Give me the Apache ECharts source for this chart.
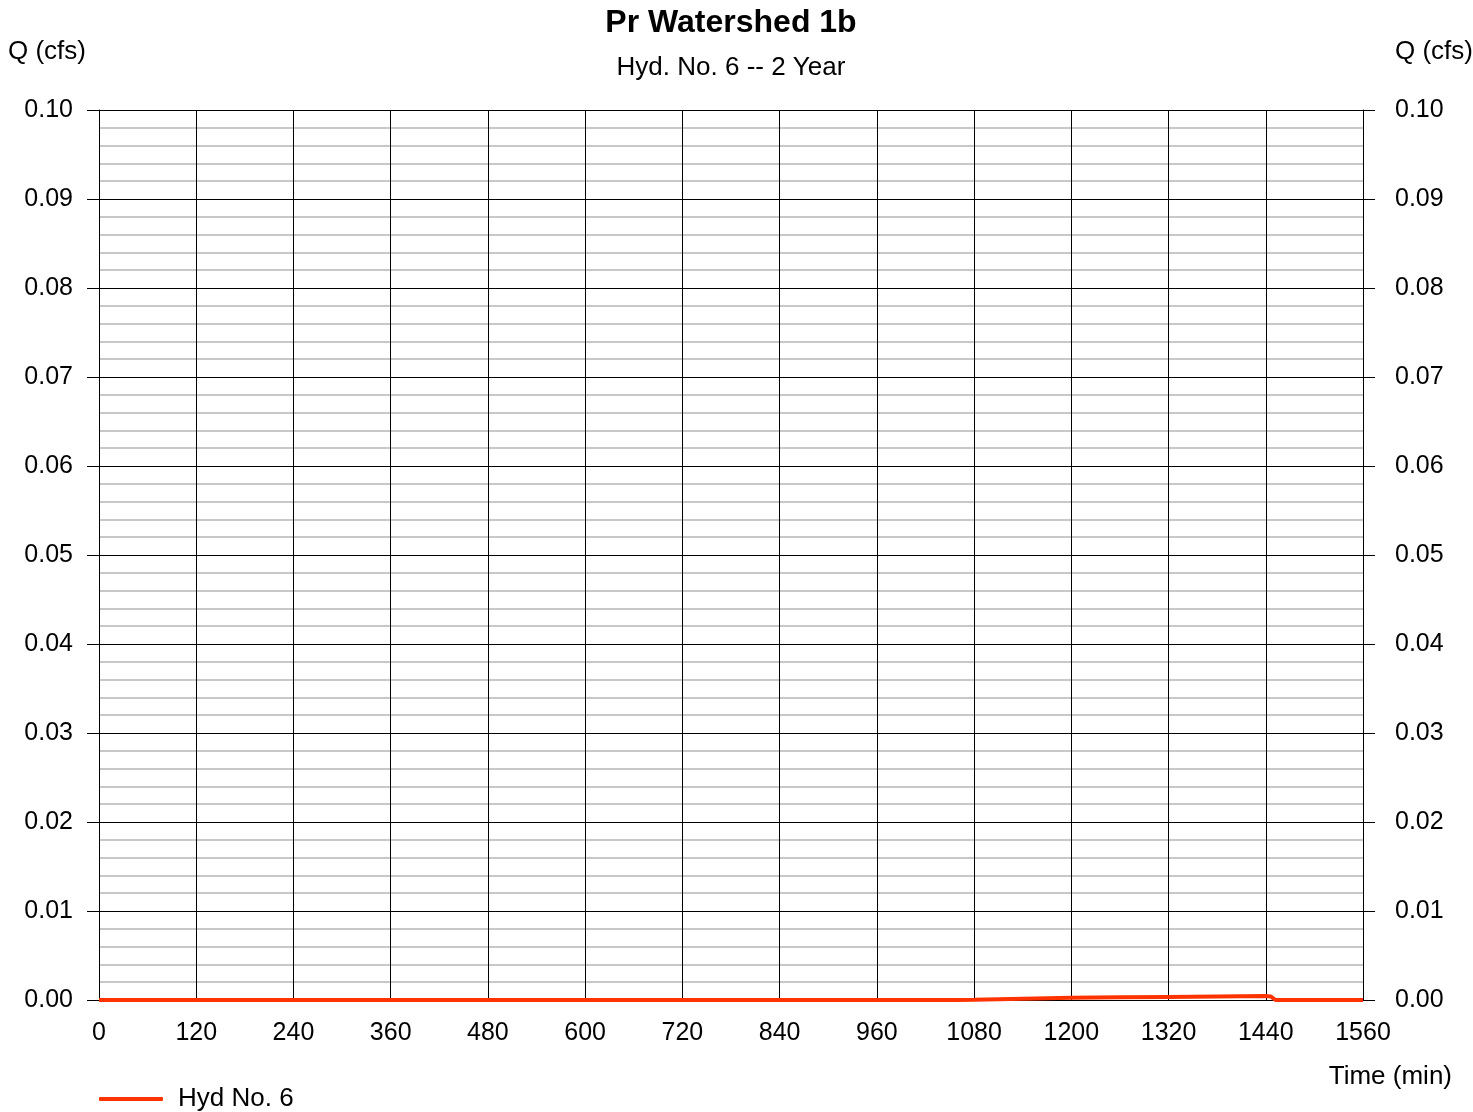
<!DOCTYPE html>
<html><head><meta charset="utf-8">
<script src="https://cdn.jsdelivr.net/npm/echarts@6/dist/echarts.min.js"></script>
<style>html,body{margin:0;padding:0;background:#fff}#c{width:1473px;height:1112px}</style>
</head><body><div id="c"></div>
<script>
var titleText = 'Pr Watershed 1b';
var subtitleText = 'Hyd. No. 6 -- 2 Year';
var seriesName = 'Hyd No. 6';
var timeMin = [0, 120, 240, 360, 480, 600, 720, 840, 960, 1020, 1060, 1080, 1140, 1200, 1260, 1320, 1380, 1440, 1446, 1452, 1500, 1560];
var flowCfs = [0, 0, 0, 0, 0, 0, 0, 0, 0, 0, 0, 0.00003, 0.00015, 0.00025, 0.0003, 0.00035, 0.0004, 0.00044, 0.0004, 0, 0, 0];
var xTicks = [0, 120, 240, 360, 480, 600, 720, 840, 960, 1080, 1200, 1320, 1440, 1560];
var yTicks = [0, 0.01, 0.02, 0.03, 0.04, 0.05, 0.06, 0.07, 0.08, 0.09, 0.10];

var data = timeMin.map(function (t, i) { return [t, flowCfs[i]]; });
var font = 'Liberation Sans, Arial, sans-serif';
var chart = echarts.init(document.getElementById('c'));
function yAxisCfg(pos) {
  return {
    type: 'value', position: pos, min: yTicks[0], max: yTicks[yTicks.length - 1], interval: 0.01,
    axisLine: { show: true, lineStyle: { color: '#000', width: 1 } },
    axisTick: { show: true, length: 12, lineStyle: { color: '#000', width: 1 } },
    axisLabel: { color: '#000', fontSize: 25, fontFamily: font, margin: pos === 'left' ? 26 : 32, formatter: function (v) { return v.toFixed(2); } },
    splitLine: { show: pos === 'left', lineStyle: { color: '#000', width: 1 } },
    minorTick: { show: false, splitNumber: 5 },
    minorSplitLine: { show: pos === 'left', lineStyle: { color: '#c8c8c8', width: 2 } }
  };
}
chart.setOption({
  animation: false,
  graphic: [
    { type: 'text', x: 731, y: 7, style: { text: titleText, font: 'bold 32px ' + font, fill: '#000', align: 'center', verticalAlign: 'top' } },
    { type: 'text', x: 731, y: 55, style: { text: subtitleText, font: '26px ' + font, fill: '#000', align: 'center', verticalAlign: 'top' } },
    { type: 'text', left: 8, top: 39, style: { text: 'Q (cfs)', font: '26px ' + font, fill: '#000' } },
    { type: 'text', right: 0, top: 39, style: { text: 'Q (cfs)', font: '26px ' + font, fill: '#000' } },
    { type: 'text', right: 21, top: 1064, style: { text: 'Time (min)', font: '26px ' + font, fill: '#000' } }
  ],
  legend: {
    left: 94, top: 1081, itemWidth: 64, itemHeight: 4, icon: 'roundRect',
    textStyle: { fontFamily: font, fontSize: 26, color: '#000', padding: [0, 0, 0, 10] },
    data: [seriesName]
  },
  grid: { left: 99, right: 110, top: 110, bottom: 112, containLabel: false },
  xAxis: {
    type: 'value', min: xTicks[0], max: xTicks[xTicks.length - 1], interval: 120,
    axisLine: { show: true, lineStyle: { color: '#000' } },
    axisTick: { show: false },
    axisLabel: { color: '#000', fontSize: 25, fontFamily: font, margin: 21, formatter: function (v) { return String(v); } },
    splitLine: { show: true, lineStyle: { color: '#000', width: 1 } }
  },
  yAxis: [yAxisCfg('left'), yAxisCfg('right')],
  series: [{
    name: seriesName, type: 'line', data: data, showSymbol: false, symbol: 'none',
    lineStyle: { color: '#ff3300', width: 4 }, itemStyle: { color: '#ff3300' }, z: 10
  }]
});
</script></body></html>
